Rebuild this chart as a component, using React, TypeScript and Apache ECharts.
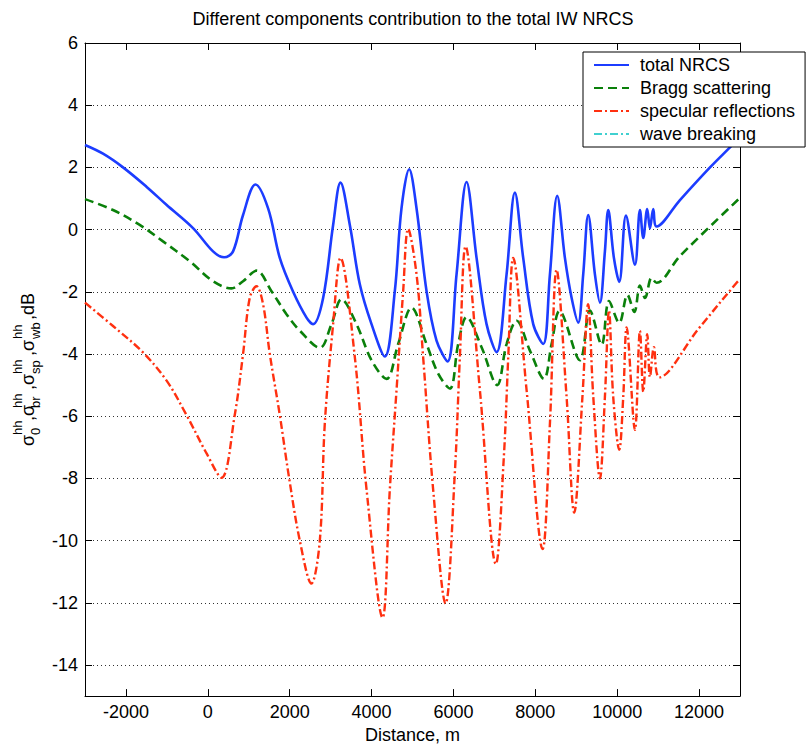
import React, { useEffect, useRef } from "react";
import * as echarts from "echarts";

const FONT = "'Liberation Sans', Arial, Helvetica, sans-serif";

const TITLE = "Different components contribution to the total IW NRCS";
const X_NAME = "Distance, m";
const SERIES_NAMES = ["total NRCS", "Bragg scattering", "specular reflections", "wave breaking"];

// total NRCS (blue)
const totalX = [
  -3000, -2560, -2071, -1500, -1011, -361, 128, 397, 617, 861, 1164, 1473, 1758, 2084, 2411, 2572, 2818,
  3061, 3241, 3469, 3713, 3999, 4324, 4568, 4731, 4918, 5099, 5343, 5587, 5856, 6076, 6321, 6565, 6809,
  7054, 7298, 7501, 7704, 7949, 8193, 8357, 8535, 8723, 8886, 9048, 9170, 9292, 9456, 9578, 9700, 9781,
  9920, 10050, 10214, 10434, 10556, 10637, 10734, 10800, 10881, 10963, 11533, 12267, 12797, 13000,
];
const totalY = [
  2.72, 2.44, 2.0, 1.38, 0.8, 0.05, -0.7, -0.89, -0.7, 0.47, 1.45, 0.68, -0.91, -2.0, -2.83, -3.04, -2.19,
  0.15, 1.51, 0.15, -1.76, -3.04, -4.08, -1.98, 0.68, 1.94, 0.68, -1.98, -3.57, -4.24, -1.44, 1.53, -0.91, -3.04,
  -3.94, -1.44, 1.19, -0.91, -3.04, -3.68, -1.44, 1.09, -0.91, -2.19, -2.99, -1.44, 0.47, -1.44, -2.35, -0.7, 0.63,
  -0.91, -1.68, 0.45, -1.13, 0.63, -0.27, 0.66, 0.04, 0.66, 0.1, 0.95, 2.0, 2.7, 2.97,
];

// Bragg scattering (green)
const braggX = [
  -3000, -2316, -1663, -1094, -441, 128, 578, 861, 1189, 1555, 1922, 2247, 2736, 3021, 3266, 3632, 3999,
  4366, 4650, 4977, 5343, 5627, 5913, 6116, 6321, 6687, 7068, 7298, 7543, 7868, 8210, 8398, 8590, 9089,
  9334, 9620, 9800, 10050, 10250, 10420, 10556, 10680, 10841, 10963, 11533, 13000,
];
const braggY = [
  0.98, 0.63, 0.15, -0.38, -1.02, -1.66, -1.89, -1.66, -1.32, -1.98, -2.72, -3.25, -3.8, -3.04, -2.24, -3.04, -4.2,
  -4.8, -3.68, -2.51, -3.68, -4.63, -5.11, -3.68, -2.81, -3.78, -5.0, -3.68, -2.93, -3.89, -4.8, -3.68, -2.62, -4.2,
  -2.6, -3.7, -2.3, -3.0, -2.1, -2.65, -1.8, -2.2, -1.55, -1.71, -0.85, 1.02,
];

// specular reflections (red)
const specX = [
  -3000, -2316, -1583, -1011, -522, -33, 333, 658, 861, 1025, 1189, 1350, 1514, 1758, 1985, 2247, 2530,
  2736, 2858, 3061, 3241, 3591, 3877, 4268, 4446, 4610, 4772, 4894, 5099, 5260, 5504, 5807, 6034, 6157,
  6296, 6646, 7037, 7232, 7339, 7460, 7787, 8178, 8357, 8520, 8764, 8950, 9150, 9290, 9416, 9578, 9700,
  9800, 9903, 10050, 10148, 10230, 10434, 10556, 10637, 10734, 10800, 10898, 11030, 11980, 12917, 13000,
];
const specY = [
  -2.35, -3.1, -3.95, -4.85, -5.96, -7.19, -7.98, -5.96, -4.0, -2.19, -1.82, -2.4, -4.0, -5.96, -7.98, -10.0, -11.38,
  -10.0, -6.23, -3.04, -0.91, -4.1, -8.35, -12.48, -8.35, -5.16, -1.98, 0.02, -1.44, -4.1, -8.35, -12.02, -7.82, -4.1,
  -0.54, -5.16, -10.75, -7.29, -4.1, -0.91, -5.16, -10.27, -6.23, -1.29, -5.38, -9.1, -5.4, -2.4, -5.38, -8.0, -5.38,
  -2.6, -5.38, -7.08, -5.38, -3.15, -6.44, -3.25, -5.22, -3.36, -4.74, -3.78, -4.75, -3.2, -1.71, -1.6,
];

// wave breaking (cyan) – not visible inside the plotted range
const breakX: number[] = [];
const breakY: number[] = [];

const BLUE = "#1c3cff";
const GREEN = "#0a800a";
const RED = "#ff3010";
const CYAN = "#40d0d0";

const pairs = (xs: number[], ys: number[]) => xs.map((x, i) => [x, ys[i]]);

function yLabelGraphic() {
  const main = 18;
  const small = 13;
  const children: any[] = [];
  const txt = (text: string, x: number, y: number, size: number) =>
    children.push({
      type: "text",
      x,
      y,
      style: { text, font: `${size}px ${FONT}`, fill: "#000", align: "left", verticalAlign: "bottom" },
    });
  const stack = (sub: string, x: number) => {
    txt("hh", x, -9, small);
    txt(sub, x, 9, small);
  };
  txt("σ", 0, 4, main);
  stack("0", 11);
  txt(",σ", 25, 4, main);
  stack("br", 38);
  txt(",σ", 56, 4, main);
  stack("sp", 72);
  txt(",σ", 90, 4, main);
  stack("wb", 107);
  txt(",dB", 126, 4, main);
  return { type: "group", x: 33, y: 446, rotation: Math.PI / 2, children };
}

export default function App() {
  const ref = useRef<HTMLDivElement>(null);
  useEffect(() => {
    if (!ref.current) return;
    const chart = echarts.init(ref.current, undefined, { renderer: "svg" });
    const axisLine = { show: true, onZero: false, lineStyle: { color: "#000", width: 1 } };
    const axisTick = { show: true, inside: true, length: 7, lineStyle: { color: "#000", width: 1 } };
    const plain = (v: number) => String(v);
    const option: any = {
      animation: false,
      backgroundColor: "#fff",
      textStyle: { fontFamily: FONT },
      grid: { left: 85, top: 43, width: 655, height: 658, containLabel: false },
      graphic: [
        {
          type: "text",
          x: 413,
          y: 19,
          style: { text: TITLE, font: `18px ${FONT}`, fill: "#000", align: "center", verticalAlign: "middle" },
        },
        yLabelGraphic(),
      ],
      legend: {
        orient: "vertical",
        left: 583,
        top: 52,
        itemWidth: 35,
        itemHeight: 14,
        itemGap: 5,
        padding: [4, 10, 4, 10],
        backgroundColor: "#fff",
        borderColor: "#000",
        borderWidth: 1,
        borderRadius: 0,
        selectedMode: false,
        itemStyle: { opacity: 0 },
        textStyle: { fontSize: 18, color: "#000", fontFamily: FONT, lineHeight: 18, padding: [0, 0, 0, 6] },
        data: SERIES_NAMES,
        z: 10,
      },
      xAxis: [
        {
          type: "value",
          min: -3000,
          max: 13000,
          splitNumber: 8,
          position: "bottom",
          name: X_NAME,
          nameLocation: "middle",
          nameGap: 27,
          nameTextStyle: { fontSize: 18, color: "#000", fontFamily: FONT },
          axisLine,
          axisTick,
          axisLabel: {
            fontSize: 18,
            color: "#000",
            fontFamily: FONT,
            margin: 7,
            showMinLabel: false,
            showMaxLabel: false,
            formatter: plain,
          },
          splitLine: { show: false },
        },
        {
          type: "value",
          min: -3000,
          max: 13000,
          splitNumber: 8,
          position: "top",
          axisLine,
          axisTick,
          axisLabel: { show: false },
          splitLine: { show: false },
        },
      ],
      yAxis: [
        {
          type: "value",
          min: -15,
          max: 6,
          splitNumber: 10,
          position: "left",
          axisLine,
          axisTick,
          axisLabel: { fontSize: 18, color: "#000", fontFamily: FONT, margin: 7, showMinLabel: false, formatter: plain },
          splitLine: { show: true, lineStyle: { color: "#333", width: 1, type: [1, 3] } },
        },
        {
          type: "value",
          min: -15,
          max: 6,
          splitNumber: 10,
          position: "right",
          axisLine,
          axisTick,
          axisLabel: { show: false },
          splitLine: { show: false },
        },
      ],
      series: [
        {
          name: SERIES_NAMES[0],
          type: "line",
          data: pairs(totalX, totalY),
          symbol: "none",
          showSymbol: false,
          smooth: 0.35,
          lineStyle: { color: BLUE, width: 2.6, type: "solid" },
          itemStyle: { color: BLUE },
        },
        {
          name: SERIES_NAMES[1],
          type: "line",
          data: pairs(braggX, braggY),
          symbol: "none",
          showSymbol: false,
          smooth: 0.35,
          lineStyle: { color: GREEN, width: 2.6, type: [9, 5] },
          itemStyle: { color: GREEN },
        },
        {
          name: SERIES_NAMES[2],
          type: "line",
          data: pairs(specX, specY),
          symbol: "none",
          showSymbol: false,
          smooth: 0.35,
          lineStyle: { color: RED, width: 2.4, type: [8, 3, 2, 3] },
          itemStyle: { color: RED },
        },
        {
          name: SERIES_NAMES[3],
          type: "line",
          data: pairs(breakX, breakY),
          symbol: "none",
          showSymbol: false,
          lineStyle: { color: CYAN, width: 1.5, type: [8, 3, 2, 3] },
          itemStyle: { color: CYAN },
        },
      ],
    };
    chart.setOption(option);
    return () => chart.dispose();
  }, []);
  return (
    <div
      ref={ref}
      style={{ position: "absolute", left: 0, top: 0, width: 806, height: 749, background: "#fff" }}
    />
  );
}
